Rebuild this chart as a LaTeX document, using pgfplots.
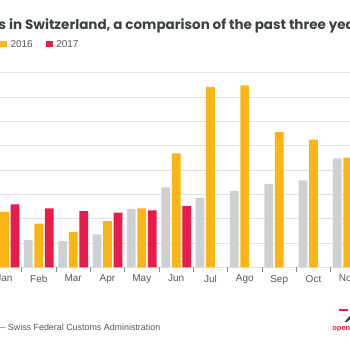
\documentclass[border=0pt]{standalone}
\usepackage{pgfplots}
\pgfplotsset{compat=1.18}
\usepackage{fontspec}
\setmainfont{Liberation Sans}
\newfontfamily\titlefont{Poppins}
\definecolor{cgray}{RGB}{205,209,211}
\definecolor{corange}{RGB}{252,181,23}
\definecolor{cred}{RGB}{232,28,75}
\definecolor{ctext}{RGB}{85,88,90}
\definecolor{ctitle}{RGB}{58,66,70}
\definecolor{cgrid}{RGB}{226,226,226}
\pgfplotsset{sqlegend/.style={legend image code/.code={\fill[##1] (0pt,-3pt) rectangle (7pt,3pt);}}}
\begin{document}
\begin{tikzpicture}
\useasboundingbox (0pt,0pt) rectangle (350pt,350pt);
\clip (0pt,0pt) rectangle (350pt,350pt);
\begin{axis}[
  at={(-12.67pt,82.7pt)}, anchor=south west,
  scale only axis, width=377.67pt, height=194.6pt,
  xmin=-0.5, xmax=10.5, ymin=0, ymax=8,
  ybar=1.8pt, bar width=8.7pt,
  axis line style={draw=none},
  xtick={0,...,10},
  xticklabels={Jan,Feb,Mar,Apr,May,Jun,Jul,Ago,Sep,Oct,Nov},
  minor xtick={0.5,1.5,...,9.5},
  major x tick style={draw=none},
  minor x tick style={draw=black!45, line width=0.6pt},
  minor tick length=5pt,
  xtick align=outside, xtick pos=bottom,
  ytick={0,...,8}, yticklabels={},
  ytick style={draw=none},
  ymajorgrids, grid style={cgrid, line width=0.8pt},
  x tick label style={font=\fontsize{10}{12}\selectfont, text=ctext, yshift=0pt},
  legend style={at={(-0.0880,1.145)}, anchor=west, draw=none, fill=none,
    font=\fontsize{10}{12}\selectfont, text=ctext, inner sep=0pt,
    nodes={inner xsep=3.5pt, inner ysep=0pt},
    /tikz/every even column/.append style={column sep=9.5pt}},
  legend columns=3,
]
\addplot[fill=cgray, draw=none, sqlegend] coordinates {(1,1.12) (2,1.08) (3,1.35) (4,2.40) (5,3.29) (6,2.85) (7,3.14) (8,3.43) (9,3.57) (10,4.48)};
\addplot[fill=corange, draw=none, sqlegend] coordinates {(0,2.28) (1,1.80) (2,1.46) (3,1.90) (4,2.42) (5,4.68) (6,7.42) (7,7.48) (8,5.56) (9,5.25) (10,4.51)};
\addplot[fill=cred, draw=none, sqlegend] coordinates {(0,2.59) (1,2.42) (2,2.31) (3,2.25) (4,2.34) (5,2.51)};
\legend{2015,2016,2017}
\end{axis}
\node[anchor=base west, font=\titlefont\bfseries\fontsize{13.5}{16}\selectfont, text=ctitle, inner sep=0pt] at (-1.5pt,320.3pt) {s in Switzerland, a comparison of the past three years};
\node[anchor=base west, font=\fontsize{8.9}{11}\selectfont, text=ctext, inner sep=0pt] at (0.3pt,19.5pt) {– Swiss Federal Customs Administration};
\fill[cred] (339pt,39.3pt) rectangle (347.7pt,40.7pt);
\fill[ctitle] (344.5pt,28pt) -- (350pt,34.5pt) -- (350pt,31pt) -- (347pt,28pt) -- cycle;
\node[anchor=base east, font=\bfseries\fontsize{7.5}{9}\selectfont, text=cred, inner sep=0pt] at (350.5pt,19pt) {open};
\end{tikzpicture}
\end{document}
